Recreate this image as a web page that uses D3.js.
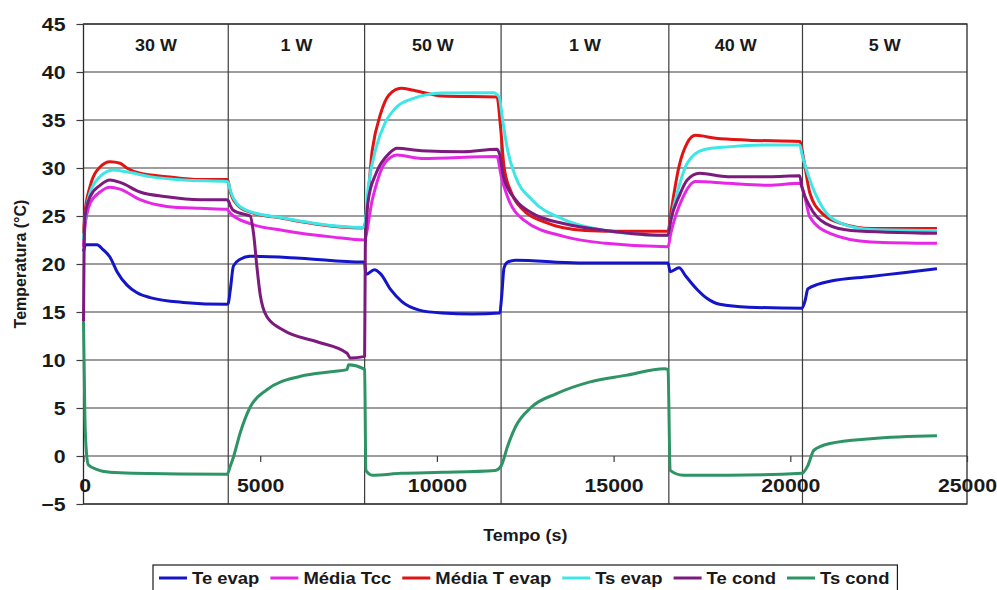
<!DOCTYPE html>
<html lang="pt">
<head>
<meta charset="utf-8">
<title>Temperatura x Tempo</title>
<script src="https://cdn.jsdelivr.net/npm/d3@7/dist/d3.min.js"></script>
<style>
    body { margin: 0; background: #fff; }
    svg { display: block; }
    text { font-family: "Liberation Sans", Arial, sans-serif; font-weight: bold; fill: #1a1a1a; }
</style>
</head>
<body>
<div id="chart"></div>

<script type="text/javascript">
// values: [tempo (s), temperatura (°C)]
var teEvap = [[0,21.3],[60,22.0],[382,22.0],[552,21.5],[751,20.7],[949,19.2],[1232,17.8],[1516,17.0],[1884,16.5],[2819,16.0],[4066,15.8],[4096,15.9],[4150,17.2],[4244,19.8],[4433,20.5],[4717,20.8],[6140,20.6],[7890,20.2],[7955,20.2],[7990,18.9],[8230,19.4],[8400,19.0],[8700,17.3],[9000,16.1],[9500,15.2],[10145,14.9],[11000,14.8],[11780,14.9],[11830,16.5],[11900,19.6],[12000,20.2],[12225,20.4],[14000,20.1],[16540,20.1],[16600,19.2],[16850,19.6],[17050,18.7],[17350,17.4],[17650,16.4],[18000,15.8],[18826,15.5],[20327,15.4],[20420,16.2],[20497,17.4],[20800,17.9],[21120,18.2],[22282,18.7],[23200,19.1],[24150,19.5]];

var mediaTcc = [[0,21.8],[42,23.9],[184,26.3],[467,27.5],[751,28.0],[1034,27.8],[1601,26.7],[2357,26.0],[3300,25.8],[4057,25.7],[4096,25.6],[4150,25.3],[4717,24.2],[5660,23.5],[7068,22.8],[7940,22.5],[8173,26.7],[8527,30.5],[8873,31.35],[9561,31.0],[11700,31.2],[11822,29.1],[11998,27.0],[12451,24.6],[13613,22.85],[14775,22.15],[16540,21.8],[16620,23.2],[16967,27.0],[17316,28.6],[18230,28.4],[19392,28.2],[20270,28.4],[20384,27.4],[20553,24.9],[21120,23.2],[22282,22.3],[24150,22.15]];

var mediaTEvap = [[0,23.2],[42,25.3],[184,28.05],[467,30.1],[751,30.65],[1034,30.5],[1224,30.0],[1601,29.45],[2357,29.1],[3300,28.8],[4066,28.8],[4096,28.6],[4150,27.6],[4340,26.2],[4717,25.4],[5660,24.75],[6607,24.15],[7881,23.75],[7955,24.0],[8173,31.9],[8411,35.7],[8644,37.6],[8989,38.3],[9335,38.1],[10145,37.5],[11700,37.4],[11800,34.3],[11900,30.1],[12111,27.4],[12451,25.6],[13037,24.4],[14193,23.5],[15341,23.4],[16540,23.4],[16620,25.3],[16847,30.1],[17083,32.6],[17316,33.4],[17890,33.1],[18826,32.9],[20270,32.75],[20384,30.8],[20553,27.4],[20894,25.3],[21460,24.2],[22282,23.7],[24150,23.7]];

var tsEvap = [[0,22.6],[42,24.6],[184,27.4],[467,29.1],[844,29.8],[1224,29.6],[1884,29.1],[2827,28.75],[4057,28.6],[4096,28.5],[4150,27.7],[4340,26.3],[4717,25.45],[5660,24.8],[6607,24.2],[7881,23.8],[7947,23.9],[8059,28.05],[8286,32.2],[8527,34.65],[8873,36.4],[9335,37.25],[10145,37.8],[11600,37.85],[11760,37.4],[11860,35.0],[11998,31.9],[12225,29.1],[12689,26.7],[13613,24.6],[14775,23.5],[16389,23.0],[16540,23.0],[16620,24.6],[16847,28.05],[17083,30.5],[17548,31.9],[18230,32.2],[19392,32.4],[20270,32.4],[20327,31.5],[20553,28.75],[20894,26.0],[21460,24.2],[22282,23.6],[24150,23.5]];

var teCond = [[0,14.0],[15,20.5],[42,24.9],[184,27.0],[467,28.2],[751,28.75],[1034,28.5],[1601,27.5],[2357,27.0],[3300,26.7],[4057,26.7],[4096,26.6],[4150,26.1],[4236,25.6],[4624,25.1],[4717,25.0],[4811,23.2],[4907,19.7],[5000,16.8],[5190,14.5],[5660,13.1],[6607,11.9],[7457,10.7],[7551,10.2],[7927,10.35],[7955,10.4],[7975,22.0],[8059,26.7],[8286,29.5],[8644,31.5],[8873,32.05],[9561,31.8],[10723,31.7],[11700,31.95],[11790,31.2],[11882,29.1],[12225,26.7],[12689,25.3],[13613,24.2],[14775,23.5],[16389,23.0],[16540,23.0],[16620,24.6],[16847,27.0],[17083,28.75],[17432,29.45],[18230,29.1],[19392,29.1],[20265,29.2],[20327,28.05],[20553,26.0],[21006,24.2],[21715,23.5],[24150,23.2]];

var tsCond = [[0,14.0],[40,4.0],[71,1.0],[136,-0.9],[374,-1.4],[751,-1.7],[1402,-1.8],[4066,-1.9],[4150,-1.1],[4244,-0.1],[4433,2.4],[4717,5.1],[5190,6.9],[6140,8.3],[7068,8.8],[7457,9.0],[7500,9.5],[7918,9.1],[7955,9.0],[7990,-1.5],[8173,-2.0],[8989,-1.8],[10145,-1.7],[11650,-1.5],[11822,-1.0],[11998,1.0],[12225,3.05],[12678,5.1],[13386,6.5],[14310,7.7],[15341,8.4],[16446,9.1],[16540,9.0],[16600,-1.5],[16967,-2.0],[18230,-2.0],[20327,-1.8],[20497,-1.0],[20667,0.6],[21120,1.3],[22282,1.8],[24150,2.1]];

var seriesNames = ["Te evap", "Média Tcc", "Média T evap", "Ts evap", "Te cond", "Ts cond"];
var seriesColors = ["#1414c8", "#e628e6", "#e01414", "#3ee6e6", "#7d1a7d", "#2e9466"];
var seriesData = [teEvap, mediaTcc, mediaTEvap, tsEvap, teCond, tsCond];

var xTicks = [0, 5000, 10000, 15000, 20000, 25000];
var yTicks = [-5, 0, 5, 10, 15, 20, 25, 30, 35, 40, 45];
var phaseBounds = [4096, 7955, 11816, 16563, 20345];
var phaseLabels = ["30 W", "1 W", "50 W", "1 W", "40 W", "5 W"];
</script>

<script type="text/javascript">
var W = 997, H = 590;
var plotL = 83.5, plotR = 967, plotT = 24, plotB = 504;
var stretch = 1.12;   // the picture's text is a bit wider than plain Arial

var svg = d3.select("#chart").append("svg")
    .attr("width", W)
    .attr("height", H);

var x = d3.scaleLinear().domain([0, 25000]).range([plotL, plotR]);
var y = d3.scaleLinear().domain([-5, 45]).range([plotB, plotT]);

// horizontal grid
svg.append("g")
   .selectAll("line")
   .data(yTicks)
   .enter().append("line")
   .attr("x1", plotL).attr("x2", plotR)
   .attr("y1", function(d) { return y(d); })
   .attr("y2", function(d) { return y(d); })
   .attr("stroke", "#3c3c3c")
   .attr("stroke-width", 1.2);

// phase separators
svg.append("g")
   .selectAll("line")
   .data(phaseBounds)
   .enter().append("line")
   .attr("x1", function(d) { return x(d); })
   .attr("x2", function(d) { return x(d); })
   .attr("y1", plotT).attr("y2", plotB)
   .attr("stroke", "#3c3c3c")
   .attr("stroke-width", 1.2);

svg.append("rect")
   .attr("x", plotL).attr("y", plotT)
   .attr("width", plotR - plotL).attr("height", plotB - plotT)
   .attr("fill", "none")
   .attr("stroke", "#2a2a2a")
   .attr("stroke-width", 1.3);

// y axis
var yAxis = svg.append("g")
    .attr("transform", "translate(" + plotL + ",0)")
    .call(d3.axisLeft(y).tickValues(yTicks).tickFormat(d3.format("d"))
            .tickSizeInner(7).tickSizeOuter(0).tickPadding(11));
yAxis.select(".domain").remove();
yAxis.selectAll("line").attr("stroke", "#3c3c3c").attr("stroke-width", 1.2);
yAxis.selectAll("text")
     .attr("font-size", 19)
     .attr("x", -18 / stretch)
     .attr("transform", "scale(" + stretch + ",1)");

// x axis sits on the zero line
var xAxis = svg.append("g")
    .attr("transform", "translate(0," + y(0) + ")")
    .call(d3.axisBottom(x).tickValues(xTicks).tickFormat(d3.format("d"))
            .tickSizeInner(6).tickSizeOuter(0).tickPadding(17));
xAxis.select(".domain").remove();
xAxis.selectAll("line").attr("stroke", "#3c3c3c").attr("stroke-width", 1.2);
xAxis.selectAll("text")
     .attr("font-size", 19)
     .attr("transform", "scale(" + stretch + ",1)");
xAxis.selectAll("text").filter(function(d) { return d === 0; }).attr("x", 1);

// power labels in each phase
var edges = [0].concat(phaseBounds).concat([25000]);
svg.append("g")
   .selectAll("text")
   .data(phaseLabels)
   .enter().append("text")
   .attr("transform", function(d, i) {
       return "translate(" + ((x(edges[i]) + x(edges[i + 1])) / 2) + ",51) scale(" + stretch + ",1)";
   })
   .attr("text-anchor", "middle")
   .attr("font-size", 16)
   .text(function(d) { return d; });

// series
var line = d3.line()
    .x(function(d) { return x(d[0]); })
    .y(function(d) { return y(d[1]); })
    .curve(d3.curveMonotoneX);

svg.append("g")
   .selectAll("path")
   .data(seriesData)
   .enter().append("path")
   .attr("d", line)
   .attr("fill", "none")
   .attr("stroke", function(d, i) { return seriesColors[i]; })
   .attr("stroke-width", 3)
   .attr("stroke-linejoin", "round");

// axis titles
svg.append("text")
   .attr("transform", "translate(" + ((plotL + plotR) / 2) + ",541) scale(" + stretch + ",1)")
   .attr("text-anchor", "middle")
   .attr("font-size", 16)
   .text("Tempo (s)");

svg.append("text")
   .attr("transform", "translate(20,264) rotate(-90)")
   .attr("text-anchor", "middle")
   .attr("dy", "0.35em")
   .attr("font-size", 16)
   .text("Temperatura (°C)");

// legend
var legend = svg.append("g");
var box = legend.append("rect")
    .attr("y", 565).attr("height", 30)
    .attr("fill", "#fff")
    .attr("stroke", "#1a1a1a")
    .attr("stroke-width", 1.2);

var lx = 153 + 6;
seriesNames.forEach(function(name, i) {
    legend.append("line")
          .attr("x1", lx).attr("x2", lx + 28)
          .attr("y1", 578).attr("y2", 578)
          .attr("stroke", seriesColors[i])
          .attr("stroke-width", 3);
    lx += 33;
    var t = legend.append("text")
          .attr("transform", "translate(" + lx + ",583.5) scale(" + stretch + ",1)")
          .attr("font-size", 16.5)
          .text(name);
    lx += t.node().getComputedTextLength() * stretch + 11;
});
box.attr("x", 153).attr("width", lx - 11 + 8 - 153);
</script>
</body>
</html>
